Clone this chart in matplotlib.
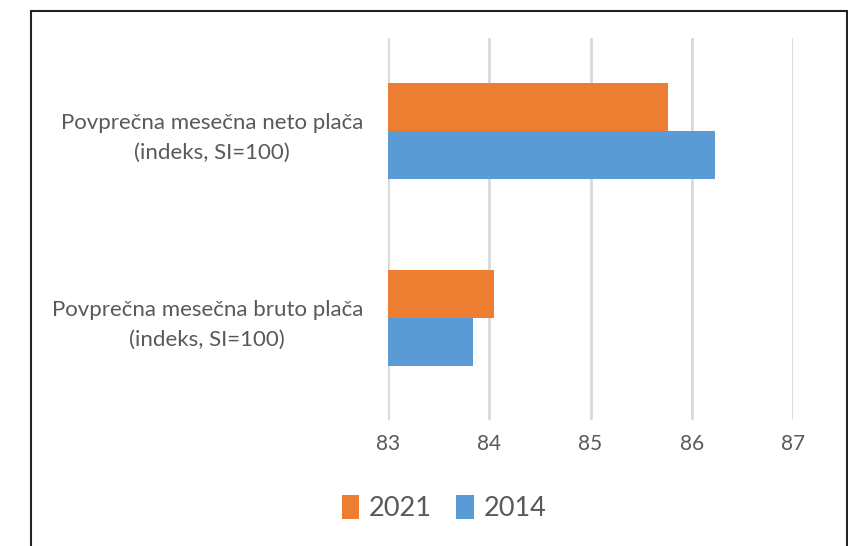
import matplotlib
matplotlib.use("Agg")
import matplotlib.pyplot as plt
from matplotlib.patches import Rectangle
import numpy as np

categories = ["Povprečna mesečna neto plača\n(indeks, SI=100)",
              "Povprečna mesečna bruto plača\n(indeks, SI=100)"]
series_names = ["2021", "2014"]
values_2021 = [85.77, 84.05]
values_2014 = [86.23, 83.84]
xticks = [83, 84, 85, 86, 87]

c2021 = "#ED7D31"
c2014 = "#5B9BD5"
txt = "#595959"

plt.rcParams['font.family'] = ['Lato', 'DejaVu Sans']

W, H = 848, 546
fig = plt.figure(figsize=(W/100, H/100), dpi=100)
ax = fig.add_axes([388/W, 1 - 420/H, (793-388)/W, (420-38)/H])

y = np.arange(len(categories))
h = 0.257
ax.barh(y - h/2, np.array(values_2021) - 83, left=83, height=h, color=c2021, label=series_names[0], zorder=3)
ax.barh(y + h/2, np.array(values_2014) - 83, left=83, height=h, color=c2014, label=series_names[1], zorder=3)

ax.set_xlim(83, 87)
ax.set_ylim(1.545, -0.5)
ax.set_xticks(xticks)
ax.set_xticklabels([str(t) for t in xticks], fontsize=15, color=txt)
ax.set_yticks(y)
ax.set_yticklabels(categories, fontsize=16, color=txt, multialignment='center', linespacing=1.6)
ax.tick_params(axis='both', length=0)
ax.tick_params(axis='y', pad=18)
ax.tick_params(axis='x', pad=10)
ax.grid(axis='x', color='#D9D9D9', linewidth=2, zorder=0)
for s in ax.spines.values():
    s.set_visible(False)

leg = fig.legend(loc='center', bbox_to_anchor=(444/W, 1 - 508/H), ncol=2, frameon=False,
                 fontsize=19.5, handlelength=0.65, handleheight=1.0, handletextpad=0.35, columnspacing=0.9)
for t in leg.get_texts():
    t.set_color(txt)

fig.patches.append(Rectangle((31/W, -0.1), (847-31)/W, 1 - 11/H + 0.1, transform=fig.transFigure,
                             fill=False, edgecolor='#222222', linewidth=1.5, clip_on=False))

fig.savefig("out.png", dpi=100)
